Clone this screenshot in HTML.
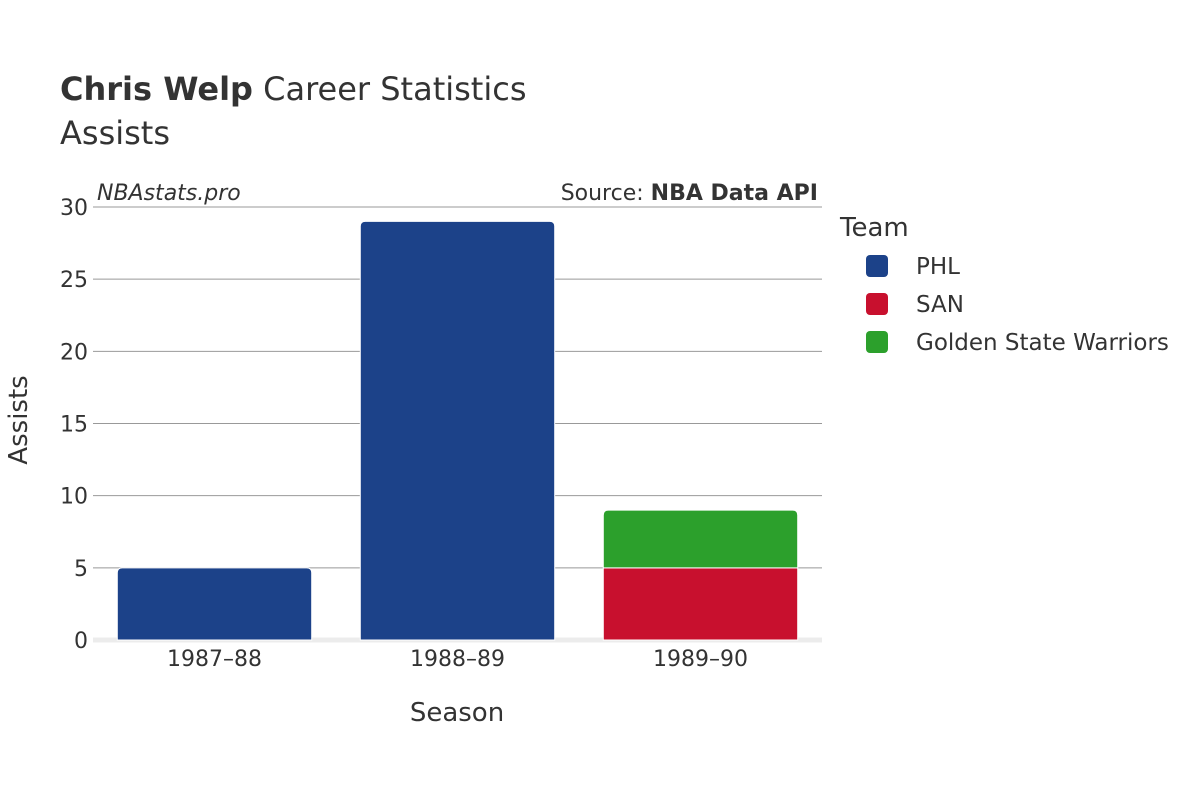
<!DOCTYPE html>
<html><head><meta charset="utf-8">
<style>
body{margin:0;background:#fff;}
svg{display:block;font-family:"DejaVu Sans","Liberation Sans",sans-serif;}
</style></head>
<body>
<svg id="chart" width="1200" height="800" viewBox="0 0 1200 800">
<text x="60" y="100" font-size="32" fill="#333"><tspan font-weight="bold">Chris Welp</tspan> Career Statistics</text>
<text x="60" y="144" font-size="32" fill="#333">Assists</text>
<text x="97" y="200" font-size="22" font-style="italic" fill="#333">NBAstats.pro</text>
<text x="818" y="200" font-size="22" fill="#333" text-anchor="end">Source: <tspan font-weight="bold">NBA Data API</tspan></text>
<g id="grid"></g>
<g id="bars"></g>
<g id="xlabels"></g>
<text x="457" y="721" font-size="26" fill="#333" text-anchor="middle">Season</text>
<text transform="translate(27,420) rotate(-90)" font-size="26" fill="#333" text-anchor="middle">Assists</text>
<text x="840" y="236" font-size="26" fill="#333">Team</text>
<g id="legend"></g>
</svg>
<script>
const seasons=["1987–88","1988–89","1989–90"];
const teams=["PHL","SAN","Golden State Warriors"];
const colors=["#1c4289","#c8102e","#2ca02c"];
const phl=[5,29,0];
const san=[0,0,5];
const gsw=[0,0,4];
const yTicks=[0,5,10,15,20,25,30];
const series=[phl,san,gsw];

const NS="http://www.w3.org/2000/svg";
const x0=93,x1=822,y0=640,yTop=207,yMax=30;
const band=(x1-x0)/seasons.length;
const y=v=>y0-(v/yMax)*(y0-yTop);
const xc=i=>x0+band*(i+0.5);
function mk(tag,attrs,parent){const e=document.createElementNS(NS,tag);for(const k in attrs)e.setAttribute(k,attrs[k]);parent.appendChild(e);return e;}

const grid=document.getElementById('grid');
yTicks.forEach(t=>{
  const l=mk('line',{x1:x0,x2:x1,y1:y(t),y2:y(t),stroke:t===0?'#ececec':'#999','stroke-width':t===0?5:1},grid);
  
  
  const tx=mk('text',{x:88,y:y(t)+8,'font-size':22,fill:'#333','text-anchor':'end'},grid);
  tx.textContent=t;
  
  
});

const bars=document.getElementById('bars');
const bw=band*0.8;
seasons.forEach((s,i)=>{
  let base=0;
  const total=series.reduce((a,sr)=>a+sr[i],0);
  series.forEach((sr,k)=>{
    const v=sr[i]; if(!v) return;
    const top=base+v;
    const xl=xc(i)-bw/2, xr=xc(i)+bw/2, yb=y(base), yt=y(top);
    const r=(top===total)?5:0;
    const d=`M${xl},${yb} L${xl},${yt+r} Q${xl},${yt} ${xl+r},${yt} L${xr-r},${yt} Q${xr},${yt} ${xr},${yt+r} L${xr},${yb} Z`;
    const p=mk('path',{d:d,fill:colors[k],stroke:'#fff','stroke-width':1},bars);
    
    
    base=top;
  });
  const t=mk('text',{x:xc(i),y:666,'font-size':22,fill:'#333','text-anchor':'middle'},document.getElementById('xlabels'));
  t.textContent=s;
  
  
});

const lg=document.getElementById('legend');
teams.forEach((tm,k)=>{
  const yy=266+k*38;
  const g=mk('g',{},lg);
  
  
  mk('rect',{x:866,y:yy-11,width:22,height:22,rx:4,fill:colors[k]},g);
  const t=mk('text',{x:916,y:yy+8,'font-size':23,fill:'#333'},g);
  t.textContent=tm;
});
</script>
</body></html>
